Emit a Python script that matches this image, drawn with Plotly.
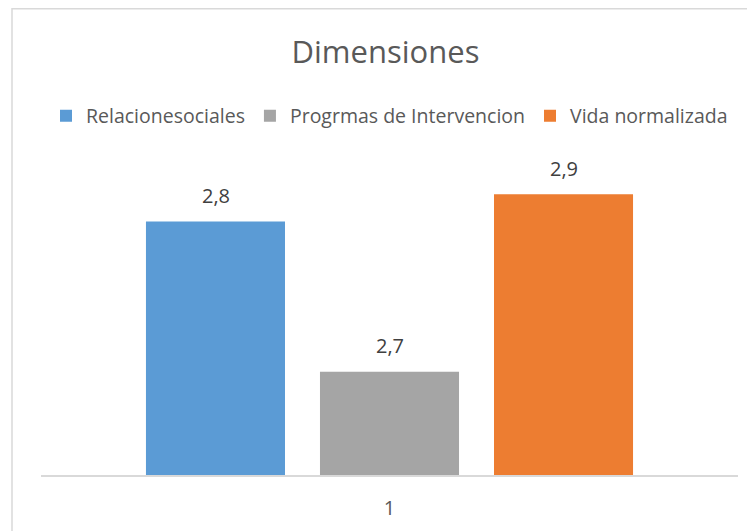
import plotly.graph_objects as go

categories = ["1"]
series_names = ["Relacionesociales", "Progrmas de Intervencion", "Vida normalizada"]
series_values = [[2.83], [2.664], [2.86]]
series_colors = ["#5B9BD5", "#A5A5A5", "#ED7D31"]
title_text = "Dimensiones"

PLOT_W = 697
PLOT_H = 317
L, T = 33, 150

fig = go.Figure()
for name, vals, col in zip(series_names, series_values, series_colors):
    fig.add_trace(go.Bar(
        x=categories, y=vals, name=name,
        marker=dict(color=col, line=dict(width=0)),
        hoverinfo="x+y+name",
    ))

# data labels above each bar (category axis: x given as category index)
slot = 174
for i, vals in enumerate(series_values):
    for j, v in enumerate(vals):
        fig.add_annotation(
            x=j, y=v, xref="x", yref="y",
            text=f"{v:.1f}".replace(".", ","),
            showarrow=False, xshift=(i - 1) * slot, yshift=26,
            yanchor="middle",
            font=dict(family="Open Sans", size=20, color="#404040"),
        )

fig.update_layout(
    width=755, height=531,
    margin=dict(l=L, r=755 - L - PLOT_W, t=T, b=531 - T - PLOT_H),
    paper_bgcolor="white", plot_bgcolor="white",
    separators=",.",
    barmode="group", bargap=0.251, bargroupgap=0.201,
    title=dict(text=title_text, x=0.5, xanchor="center", y=0.917, yanchor="middle",
               font=dict(family="Open Sans", size=31, color="#595959")),
    legend=dict(orientation="h", x=0.5, xanchor="center", y=1.1325, yanchor="middle",
                font=dict(family="Open Sans", size=19.5, color="#595959"),
                itemwidth=30, traceorder="normal"),
    font=dict(family="Open Sans", color="#595959"),
    xaxis=dict(type="category", range=[-0.5, 0.5], autorange=False,
               showline=True, linecolor="#D9D9D9", linewidth=1.5,
               tickfont=dict(size=20, color="#595959"), ticks="", showgrid=False,
               ticklabelstandoff=14),
    yaxis=dict(range=[2.55, 2.9], autorange=False, showticklabels=False, showgrid=False,
               zeroline=False, showline=False, fixedrange=True),
    showlegend=True,
)
fig.add_shape(type="rect", xref="paper", yref="paper",
              x0=(4 - L) / PLOT_W, x1=(780 - L) / PLOT_W,
              y0=(T + PLOT_H - 560) / PLOT_H, y1=(T + PLOT_H - 0.75) / PLOT_H,
              line=dict(color="#D9D9D9", width=1.5), layer="below")

fig.write_html("out.html")
